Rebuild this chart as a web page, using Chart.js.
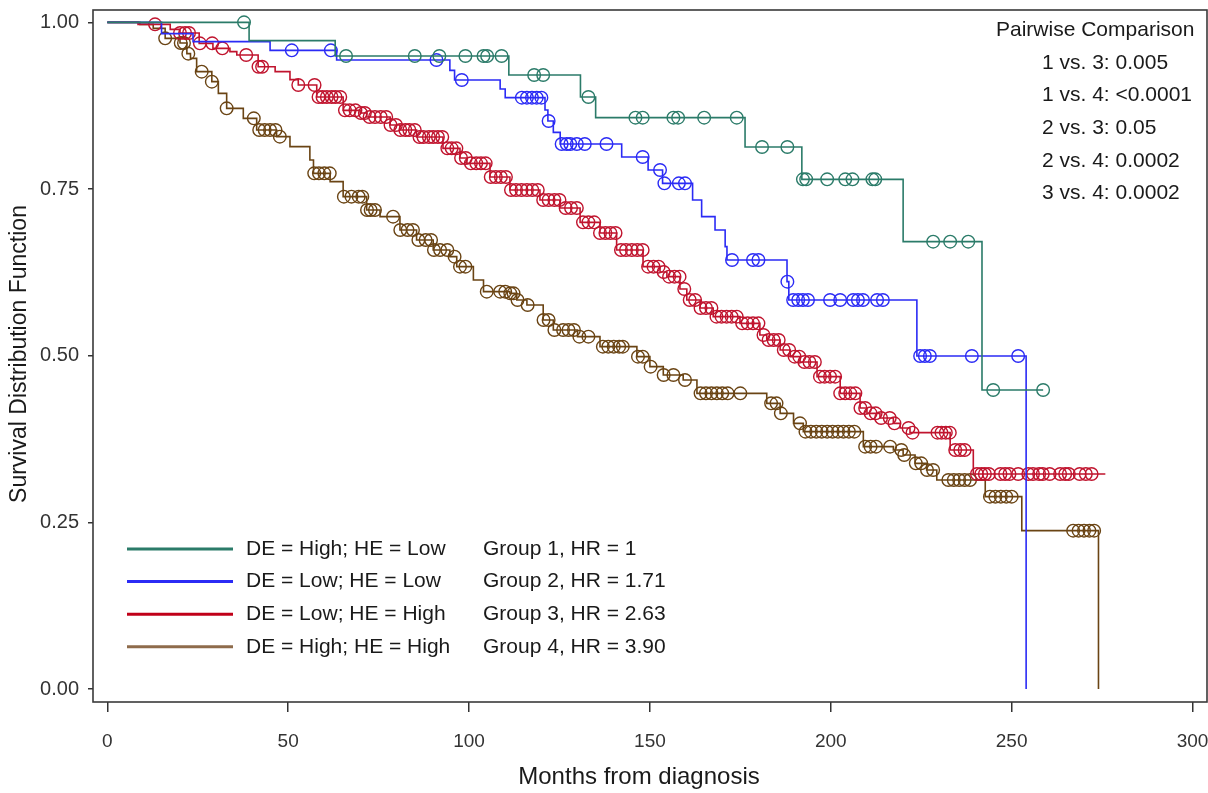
<!DOCTYPE html>
<html>
<head>
<meta charset="utf-8">
<title>Survival by DE / HE group</title>
<script src="https://cdn.jsdelivr.net/npm/chart.js@4.4.0/dist/chart.umd.min.js"></script>
<style>
  html, body { margin: 0; padding: 0; background: #fff; }
  #wrap { width: 1208px; height: 793px; }
</style>
</head>
<body>
<div id="wrap"><canvas id="km" width="1208" height="793"></canvas></div>
<script>
// axis ticks
const xTicks = [0, 50, 100, 150, 200, 250, 300];
const yTicks = [0, 0.25, 0.5, 0.75, 1];

// Group 1: DE = High; HE = Low  (step times / survival after step)
const g1Times = [0, 39.2, 63, 111, 130.8, 135, 176.3, 192, 220, 241.8, 258.7];
const g1Surv  = [1, 0.9725, 0.9495, 0.921, 0.888, 0.857, 0.813, 0.7645, 0.671, 0.4485, 0.4485];
const g1Censor = [37.8, 66, 85, 91.8, 99, 104, 105, 109, 118, 120.5, 133, 146, 148, 156.5, 157.8,
  165, 174, 181, 188, 192.3, 193.2, 199, 204, 206, 211.5, 212.3, 228.3, 233, 238, 244.9, 258.7];

// Group 2: DE = Low; HE = Low
const g2Times = [0, 15, 23.7, 45, 63.4, 94.7, 96, 108.6, 110, 121, 121.8, 123.3, 125.2, 142.2, 149.5,
  153.5, 161.8, 164.3, 168, 170.8, 171.3, 187.9, 188.4, 223.8, 254];
const g2Surv  = [1, 0.983, 0.971, 0.958, 0.9435, 0.928, 0.9135, 0.9, 0.887, 0.8685, 0.852, 0.835, 0.8175,
  0.798, 0.7785, 0.7585, 0.7335, 0.7085, 0.6885, 0.6635, 0.6435, 0.611, 0.5835, 0.4995, 0];
const g2Censor = [51, 61.8, 91, 98, 114.6, 116, 117.4, 118.7, 120, 122, 125.6, 127, 128, 129.8, 132, 138,
  148, 152.8, 154, 158, 159.7, 172.7, 178.5, 180, 188, 189.6, 191, 192.3, 193.7, 199.8, 202.6, 206.2,
  207.5, 208.9, 212.8, 214.4, 224.7, 226, 227.4, 239, 251.8];

// Group 3: DE = Low; HE = High
const g3Times = [0, 8.5, 17.4, 20.1, 25.4, 29.2, 33.9, 35.8, 41.7, 46.4, 50.5, 52.8, 57.9, 65.2, 69.9,
  71.7, 78.2, 80.9, 85.5, 92.8, 97.5, 99.4, 105.8, 111.3, 119.6, 125.1, 130.7, 136.2, 140.8, 148.1,
  152.8, 154.7, 158.3, 160.2, 163.9, 167.5, 174.9, 180.4, 182.3, 186, 188.8, 191.5, 196.2, 202.6,
  208.1, 210, 213.6, 217.3, 219.2, 221.9, 233, 239.4, 275.9];
const g3Surv  = [1, 0.997, 0.9895, 0.984, 0.9685, 0.961, 0.956, 0.951, 0.9334, 0.926, 0.914, 0.906,
  0.888, 0.868, 0.864, 0.858, 0.846, 0.8385, 0.828, 0.811, 0.7965, 0.7885, 0.768, 0.7485, 0.7335,
  0.7215, 0.7, 0.684, 0.6585, 0.6335, 0.6255, 0.6185, 0.6, 0.5835, 0.5715, 0.5585, 0.5485, 0.531,
  0.5235, 0.5085, 0.4985, 0.4905, 0.4685, 0.4435, 0.4215, 0.4135, 0.4065, 0.3985, 0.3915, 0.3845,
  0.3585, 0.3225, 0.3225];
const g3Censor = [13.2, 20.1, 21.5, 22.6, 25.6, 29, 31.8, 38.4, 41.8, 42.8, 52.8, 57.3, 58.4, 59.5, 60.7,
  62, 63.1, 64.4, 65.7, 67, 68.6, 70.1, 71.2, 72.5, 74, 75.6, 77.1, 78.3, 79.8, 81, 82.4, 83.5, 85, 86.3,
  87.4, 88.9, 90.1, 91.4, 92.6, 94, 95.2, 96.5, 97.8, 99.1, 100.5, 102, 103.3, 104.6, 106, 107.4, 108.8,
  110.2, 111.6, 113, 114.5, 116, 117.5, 119, 120.5, 122, 123.6, 125, 126.7, 128.2, 129.8, 131.5, 133,
  134.6, 136.2, 137.7, 139.1, 140.5, 142, 143.4, 145, 146.5, 148, 149.5, 151, 152.4, 153.8, 155.3, 156.8,
  158.2, 159.5, 161, 162.5, 164, 165.5, 167, 168.4, 169.8, 171.2, 172.6, 174, 175.5, 177, 178.5, 180,
  181.4, 182.8, 184.2, 185.6, 187, 188.5, 190, 191.3, 192.7, 194.1, 195.6, 197, 198.3, 199.8, 201.2,
  202.6, 204, 205.4, 206.8, 208.2, 209.5, 211, 212.4, 213.9, 216.3, 217.6, 221.5, 222.6, 229.5, 230.6,
  231.8, 232.9, 234.4, 235.8, 237, 240.4, 241.6, 242.6, 243.7, 246.9, 248.2, 249.4, 251.8, 254.6, 255.9,
  257.6, 258.6, 260.5, 263.4, 264.8, 265.8, 268.8, 270.5, 272.1];

// Group 4: DE = High; HE = High
const g4Times = [0, 9, 12.7, 16, 20.1, 22, 23, 24.7, 28.9, 30.7, 33, 37.6, 41.3, 46.8, 50.5, 56, 57, 61.6,
  65.2, 71.7, 75.4, 80.9, 85.5, 90.1, 94.7, 96.6, 101.2, 104, 111.3, 113.2, 116, 120.5, 123.3, 130, 136.2,
  146.4, 150, 153.7, 159.2, 163, 182.3, 186, 189.7, 192.4, 209, 217.3, 220, 223.3, 226.5, 229.3, 242.7,
  252.8, 274];
const g4Surv  = [1, 0.997, 0.991, 0.976, 0.969, 0.953, 0.946, 0.926, 0.911, 0.8935, 0.871, 0.856, 0.8385,
  0.8285, 0.8135, 0.7935, 0.7735, 0.761, 0.7385, 0.7185, 0.7085, 0.6885, 0.6735, 0.6585, 0.6485, 0.6335,
  0.6135, 0.596, 0.5935, 0.5835, 0.576, 0.5535, 0.5385, 0.5285, 0.5135, 0.4985, 0.4835, 0.471, 0.4635,
  0.4435, 0.4285, 0.4135, 0.3985, 0.386, 0.3635, 0.3585, 0.351, 0.3385, 0.3285, 0.3135, 0.2885, 0.2375, 0];
const g4Censor = [16, 20.3, 21.2, 22.4, 26.1, 28.9, 33, 40.5, 42, 43.5, 45, 46.5, 47.7, 57.2, 58.5, 60,
  61.5, 65.4, 67.5, 69.5, 70.5, 71.8, 72.8, 74, 79, 81, 83, 84.5, 86, 88, 89.5, 90.3, 92, 94, 96, 97.5,
  99, 104.9, 108.6, 110, 111.4, 112.3, 113.4, 116.2, 120.6, 122, 123.6, 126, 127.5, 129, 130.5, 133, 137,
  138.5, 140, 141.5, 142.5, 146.7, 148, 150.2, 153.8, 156.5, 159.7, 164, 165.5, 167, 168.5, 170, 171.5,
  175, 183.5, 185, 186.2, 191.5, 193, 194.5, 196, 197.5, 199, 200.5, 202, 203.5, 205, 206.5, 209.5, 211,
  212.5, 216.4, 219.5, 220.3, 223.5, 225, 226.6, 228.3, 232.5, 234, 235.5, 237, 238.5, 244, 245.5, 247,
  248.5, 250, 267, 268.5, 270, 271.5, 272.8];

const groupLabels = ['DE = High; HE = Low', 'DE = Low; HE = Low', 'DE = Low; HE = High', 'DE = High; HE = High'];
const hrLabels = ['Group 1, HR = 1', 'Group 2, HR = 1.71', 'Group 3, HR = 2.63', 'Group 4, HR = 3.90'];
const pairTitle = 'Pairwise\u00A0Comparison';
const pairLabels = ['1 vs. 3: 0.005', '1 vs. 4: <0.0001', '2 vs. 3: 0.05', '2 vs. 4: 0.0002', '3 vs. 4: 0.0002'];
const xTitle = 'Months from diagnosis';
const yTitle = 'Survival Distribution Function';

const lineColors = ['#2B7B69', '#2B2BF5', '#C0142E', '#6A4414'];
const legendColors = ['#2B7B69', '#2B2BF5', '#C00018', '#8E6B4B'];
const FONT = "'Liberation Sans', Arial, sans-serif";

const groups = [
  [g1Times, g1Surv, g1Censor],
  [g2Times, g2Surv, g2Censor],
  [g3Times, g3Surv, g3Censor],
  [g4Times, g4Surv, g4Censor]
];

function stepPoints(times, surv) {
  return times.map((t, i) => ({ x: t, y: surv[i] }));
}

// a censored subject sits on the curve at its own time
function censorPoints(censor, times, surv) {
  return censor.map(t => {
    let s = surv[0];
    for (let i = 0; i < times.length; i++) {
      if (times[i] <= t) s = surv[i];
    }
    return { x: t, y: s };
  });
}

const datasets = [];
groups.forEach(([times, surv, censor], i) => {
  datasets.push({
    data: stepPoints(times, surv),
    showLine: true,
    stepped: 'before',
    borderColor: lineColors[i],
    borderWidth: 1.6,
    pointRadius: 0,
    fill: false
  });
  datasets.push({
    data: censorPoints(censor, times, surv),
    showLine: false,
    pointStyle: 'circle',
    pointRadius: 6.3,
    borderColor: lineColors[i],
    backgroundColor: 'transparent',
    pointBorderWidth: 1.4
  });
});

const annotations = {
  id: 'annotations',
  afterDatasetsDraw(chart) {
    const { ctx, chartArea } = chart;
    ctx.save();
    // frame
    ctx.strokeStyle = '#3a3a3a';
    ctx.lineWidth = 1.6;
    ctx.strokeRect(chartArea.left, chartArea.top, chartArea.right - chartArea.left, chartArea.bottom - chartArea.top);

    // legend
    ctx.font = '21px ' + FONT;
    ctx.textBaseline = 'middle';
    ctx.fillStyle = '#1a1a1a';
    groupLabels.forEach((label, i) => {
      const y = 549 + i * 32.6;
      ctx.strokeStyle = legendColors[i];
      ctx.lineWidth = 3;
      ctx.beginPath();
      ctx.moveTo(127, y);
      ctx.lineTo(233, y);
      ctx.stroke();
      ctx.fillText(label, 246, y);
      ctx.fillText(hrLabels[i], 483, y);
    });

    // pairwise p-values
    ctx.fillText(pairTitle, 996, 30);
    pairLabels.forEach((label, i) => {
      ctx.fillText(label, 1042, 63 + i * 32.6);
    });

    // axis titles
    ctx.textAlign = 'center';
    ctx.font = '24px ' + FONT;
    ctx.fillText(xTitle, 639, 777);
    ctx.translate(20, 354);
    ctx.rotate(-Math.PI / 2);
    ctx.font = '23px ' + FONT;
    ctx.fillText(yTitle, 0, 0);
    ctx.restore();
  }
};

function noPad(axis) {
  axis.paddingLeft = 0;
  axis.paddingRight = 0;
  axis.paddingTop = 0;
  axis.paddingBottom = 0;
}

new Chart(document.getElementById('km'), {
  type: 'scatter',
  data: { datasets },
  options: {
    responsive: false,
    animation: false,
    layout: { autoPadding: false, padding: { top: 10, right: 1, left: 0, bottom: 0 } },
    plugins: { legend: { display: false }, tooltip: { enabled: false } },
    scales: {
      x: {
        type: 'linear',
        min: -3.95,
        max: 304,
        afterBuildTicks: axis => { axis.ticks = xTicks.map(v => ({ value: v })); },
        afterFit: axis => { axis.height = 91; noPad(axis); },
        border: { display: false },
        grid: { drawOnChartArea: false, drawTicks: true, tickLength: 10, color: '#333', lineWidth: 1.5 },
        ticks: { color: '#333', font: { family: FONT, size: 19 }, padding: 18, maxRotation: 0, autoSkip: false }
      },
      y: {
        type: 'linear',
        min: -0.0195,
        max: 1.0185,
        afterBuildTicks: axis => { axis.ticks = yTicks.map(v => ({ value: v })); },
        afterFit: axis => { axis.width = 93; noPad(axis); },
        border: { display: false },
        grid: { drawOnChartArea: false, drawTicks: true, tickLength: 5, color: '#333', lineWidth: 1.5 },
        ticks: { color: '#333', font: { family: FONT, size: 20 }, padding: 9,
          callback: v => v.toFixed(2) }
      }
    }
  },
  plugins: [annotations]
});
</script>
</body>
</html>
